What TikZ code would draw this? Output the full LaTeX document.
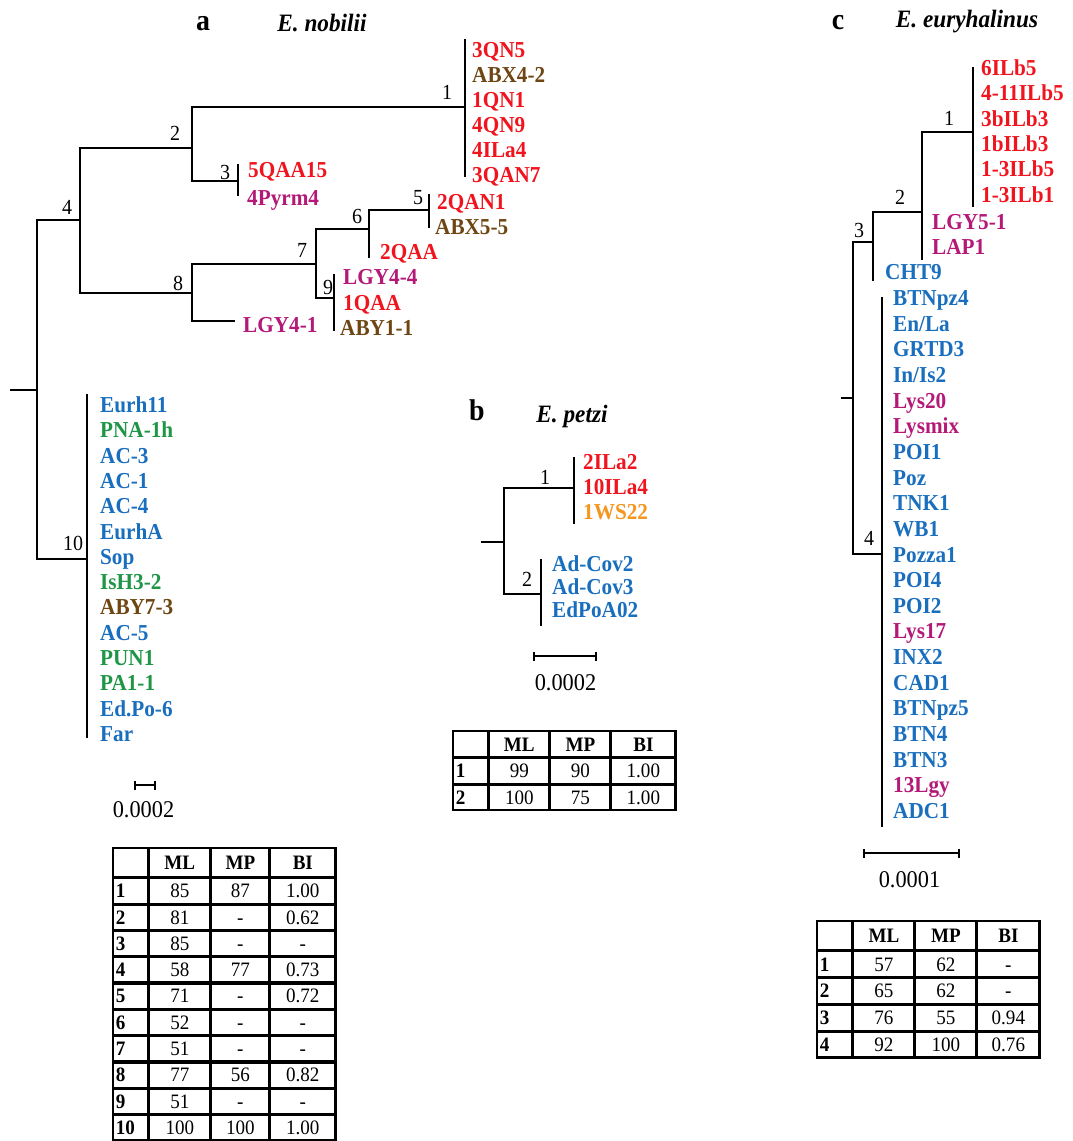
\documentclass[tikz,border=0pt]{standalone}
\usepackage{fontspec}
\setmainfont{Liberation Serif}[FakeStretch=0.93]
\usetikzlibrary{matrix,arrows.meta}

\definecolor{hapred}{RGB}{240,20,30}
\definecolor{hapbrown}{RGB}{110,70,20}
\definecolor{hapmag}{RGB}{180,25,120}
\definecolor{hapblue}{RGB}{25,110,190}
\definecolor{hapgreen}{RGB}{30,150,70}
\definecolor{haporange}{RGB}{245,150,30}

\newcommand{\tipfont}{\fontsize{22.8}{23}\selectfont\bfseries}
\newcommand{\numfont}{\fontsize{21.5}{22}\selectfont}
\newcommand{\panelfont}{\fontsize{30}{30}\selectfont\bfseries}
\newcommand{\specfont}{\fontsize{25}{25}\selectfont\bfseries\itshape}
\newcommand{\barfont}{\fontsize{24}{24}\selectfont}
\newcommand{\tabtxt}{\fontsize{20.5}{21}\selectfont}
\newcommand{\tabhead}{\fontsize{20.5}{21}\selectfont\bfseries}

\tikzset{
  branch/.style = {line width=2.8pt},
  tip/.style = {anchor=west, inner sep=0pt, text height=15pt, text depth=0pt, font=\tipfont},
  num/.style = {inner sep=0pt, text height=14.5pt, text depth=0pt, font=\numfont},
  panel/.style = {anchor=base, font=\panelfont},
  species/.style = {anchor=base, font=\specfont},
  scalebar/.style = {line width=2pt, arrows={Bar[width=9pt]-Bar[width=9pt]}},
  scaletxt/.style = {anchor=base, font=\barfont},
  support/.style = {matrix of nodes, nodes in empty cells, anchor=north west,
    inner sep=0pt, draw, line width=1.7pt, column sep=0pt, row sep=0pt,
    nodes={draw, line width=1.6pt, font=\tabtxt, inner sep=0pt,
      text height=13.5pt, text depth=0pt, minimum height=24.7pt},
    row 1/.style={nodes={font=\tabhead, minimum height=28.4pt}},
    column 1/.style={nodes={font=\tabhead, text width=30pt, inner xsep=2.2pt, align=left}}}
}

\begin{document}
\begin{tikzpicture}[x=1pt, y=-1pt]
\useasboundingbox (0,0) rectangle (1073,1141);

% a: E. nobilii
\node[panel] (pa) at (203,30) {a};
\node[species] (sa) at (322,31) {E. nobilii};

\coordinate (a0) at (10,390);
\coordinate (ar) at (37,390);
\coordinate (a4) at (80,220);
\coordinate (a10) at (87,559);
\coordinate (a2) at (192,148);
\coordinate (a8) at (192,293);
\coordinate (a1) at (465,107);
\coordinate (a3) at (238,181);
\coordinate (a7) at (316,264);
\coordinate (a6) at (369,229);
\coordinate (a5) at (429,210);
\coordinate (a9) at (334,298);
\coordinate (a6b) at (369,258);
\coordinate (a8b) at (235,321);

\draw[branch] (a0) -- (ar);
\draw[branch] (ar) |- (a4);
\draw[branch] (ar) |- (a10);
\draw[branch] (a4) |- (a2);
\draw[branch] (a4) |- (a8);
\draw[branch] (a2) |- (a1);
\draw[branch] (a2) |- (a3);
\draw[branch] (a8) |- (a7);
\draw[branch] (a8) |- (a8b);
\draw[branch] (a7) |- (a6);
\draw[branch] (a7) |- (a9);
\draw[branch] (a6) |- (a5);
\draw[branch] (a6) -- (a6b);
\draw[branch] ([yshift=68pt]a1) -- ([yshift=-70pt]a1);
\draw[branch] ([yshift=17pt]a3) -- ([yshift=-15pt]a3);
\draw[branch] ([yshift=16pt]a5) -- ([yshift=-18pt]a5);
\draw[branch] ([yshift=24pt]a9) -- ([yshift=-33pt]a9);
\draw[branch] ([yshift=165pt]a10) -- ([yshift=-179pt]a10);

\foreach \t/\c [count=\i] in {3QN5/hapred, ABX4-2/hapbrown, 1QN1/hapred,
    4QN9/hapred, 4ILa4/hapred, 3QAN7/hapred}
  \node[tip, text=\c] (a1-\i) at (472,{50+25*(\i-1)}) {\t};
\node[tip, text=hapred] (a3-1) at (248,170) {5QAA15};
\node[tip, text=hapmag] (a3-2) at (247,198) {4Pyrm4};
\node[tip, text=hapred] (a5-1) at (437,202) {2QAN1};
\node[tip, text=hapbrown] (a5-2) at (435,227) {ABX5-5};
\node[tip, text=hapred] (a6-1) at (380,252) {2QAA};
\node[tip, text=hapmag] (a9-1) at (343,277) {LGY4-4};
\node[tip, text=hapred] (a9-2) at (343,303) {1QAA};
\node[tip, text=hapbrown] (a9-3) at (340,328) {ABY1-1};
\node[tip, text=hapmag] (a8-1) at (243,325) {LGY4-1};
\foreach \t/\c [count=\i] in {Eurh11/hapblue, PNA-1h/hapgreen, AC-3/hapblue,
    AC-1/hapblue, AC-4/hapblue, EurhA/hapblue, Sop/hapblue, IsH3-2/hapgreen,
    ABY7-3/hapbrown, AC-5/hapblue, PUN1/hapgreen, PA1-1/hapgreen,
    Ed.Po-6/hapblue, Far/hapblue}
  \node[tip, text=\c] (a10-\i) at (100,{405+25.3*(\i-1)}) {\t};

\node[num] (na1) at (447,92) {1};
\node[num] (na2) at (175,133) {2};
\node[num] (na3) at (225,172) {3};
\node[num] (na4) at (67,207) {4};
\node[num] (na5) at (418,197) {5};
\node[num] (na6) at (357,216) {6};
\node[num] (na7) at (302,250) {7};
\node[num] (na8) at (178,283) {8};
\node[num] (na9) at (328,287) {9};
\node[num] (na10) at (73,543) {10};

\coordinate (sa1) at (134,785);
\coordinate (sa2) at (156,785);
\draw[scalebar] (sa1) -- (sa2);
\node[scaletxt] (la) at (143.5,817) {0.0002};

\matrix[support,
  column 2/.style={nodes={minimum width=60.4pt}},
  column 3/.style={nodes={minimum width=57.4pt}},
  column 4/.style={nodes={minimum width=64.4pt}}] (taba) at (112,847) {
   & ML & MP & BI \\
  1 & 85 & 87 & 1.00 \\
  2 & 81 & - & 0.62 \\
  3 & 85 & - & - \\
  4 & 58 & 77 & 0.73 \\
  5 & 71 & - & 0.72 \\
  6 & 52 & - & - \\
  7 & 51 & - & - \\
  8 & 77 & 56 & 0.82 \\
  9 & 51 & - & - \\
  10 & 100 & 100 & 1.00 \\
};

% b: E. petzi
\node[panel] (pb) at (477,420) {b};
\node[species] (sb) at (572,422) {E. petzi};

\coordinate (b0) at (481,542);
\coordinate (br) at (504,542);
\coordinate (b1) at (574,488);
\coordinate (b2) at (541,594);
\draw[branch] (b0) -- (br);
\draw[branch] (br) |- (b1);
\draw[branch] (br) |- (b2);
\draw[branch] ([yshift=31pt]b1) -- ([yshift=-36pt]b1);
\draw[branch] ([yshift=35pt]b2) -- ([yshift=-32pt]b2);

\node[tip, text=hapred] (b1-1) at (583,462) {2ILa2};
\node[tip, text=hapred] (b1-2) at (583,487) {10ILa4};
\node[tip, text=haporange] (b1-3) at (583,512) {1WS22};
\node[tip, text=hapblue] (b2-1) at (552,564) {Ad-Cov2};
\node[tip, text=hapblue] (b2-2) at (552,587) {Ad-Cov3};
\node[tip, text=hapblue] (b2-3) at (552,610) {EdPoA02};

\node[num] (nb1) at (545,477) {1};
\node[num] (nb2) at (527,579) {2};

\coordinate (sb1) at (533,656);
\coordinate (sb2) at (597,656);
\draw[scalebar] (sb1) -- (sb2);
\node[scaletxt] (lb) at (565.5,690) {0.0002};

\matrix[support,
  column 2/.style={nodes={minimum width=59.4pt}},
  column 3/.style={nodes={minimum width=59.4pt}},
  column 4/.style={nodes={minimum width=63.4pt}},
  row 1/.style={nodes={font=\tabhead, minimum height=25.4pt}}] (tabb) at (452,730) {
   & ML & MP & BI \\
  1 & 99 & 90 & 1.00 \\
  2 & 100 & 75 & 1.00 \\
};

% c: E. euryhalinus
\node[panel] (pc) at (838,29) {c};
\node[species] (sc) at (967,27) {E. euryhalinus};

\coordinate (c0) at (841,398);
\coordinate (cr) at (853,398);
\coordinate (c3) at (873,242);
\coordinate (c4) at (882,554);
\coordinate (c2) at (922,212);
\coordinate (c1) at (973,132);
\coordinate (c3b) at (873,281);
\coordinate (c2b) at (922,260);
\draw[branch] (c0) -- (cr);
\draw[branch] (cr) |- (c3);
\draw[branch] (cr) |- (c4);
\draw[branch] (c3) |- (c2);
\draw[branch] (c3) -- (c3b);
\draw[branch] (c2) |- (c1);
\draw[branch] (c2) -- (c2b);
\draw[branch] ([yshift=65pt]c1) -- ([yshift=-75pt]c1);
\draw[branch] ([yshift=257pt]c4) -- ([yshift=-273pt]c4);

\foreach \t [count=\i] in {6ILb5, 4-11ILb5, 3bILb3, 1bILb3, 1-3ILb5, 1-3ILb1}
  \node[tip, text=hapred] (c1-\i) at (981,{68+25.3*(\i-1)}) {\t};
\node[tip, text=hapmag] (c2-1) at (932,222) {LGY5-1};
\node[tip, text=hapmag] (c2-2) at (932,247) {LAP1};
\node[tip, text=hapblue] (c3-1) at (885,272) {CHT9};
\foreach \t/\c [count=\i] in {BTNpz4/hapblue, {En/La}/hapblue, GRTD3/hapblue,
    {In/Is2}/hapblue, Lys20/hapmag, Lysmix/hapmag, POI1/hapblue, Poz/hapblue,
    TNK1/hapblue, WB1/hapblue, Pozza1/hapblue, POI4/hapblue, POI2/hapblue,
    Lys17/hapmag, INX2/hapblue, CAD1/hapblue, BTNpz5/hapblue, BTN4/hapblue,
    BTN3/hapblue, 13Lgy/hapmag, ADC1/hapblue}
  \node[tip, text=\c] (c4-\i) at (893,{298+25.65*(\i-1)}) {\t};

\node[num] (nc1) at (949,118) {1};
\node[num] (nc2) at (900,197) {2};
\node[num] (nc3) at (859,230) {3};
\node[num] (nc4) at (869,538) {4};

\coordinate (sc1) at (863,853);
\coordinate (sc2) at (960,853);
\draw[scalebar] (sc1) -- (sc2);
\node[scaletxt] (lc) at (909.5,887) {0.0001};

\matrix[support,
  column 2/.style={nodes={minimum width=60.4pt}},
  column 3/.style={nodes={minimum width=60.4pt}},
  column 4/.style={nodes={minimum width=61.4pt}},
  nodes={minimum height=25.2pt}] (tabc) at (816,920) {
   & ML & MP & BI \\
  1 & 57 & 62 & - \\
  2 & 65 & 62 & - \\
  3 & 76 & 55 & 0.94 \\
  4 & 92 & 100 & 0.76 \\
};
\end{tikzpicture}
\end{document}
